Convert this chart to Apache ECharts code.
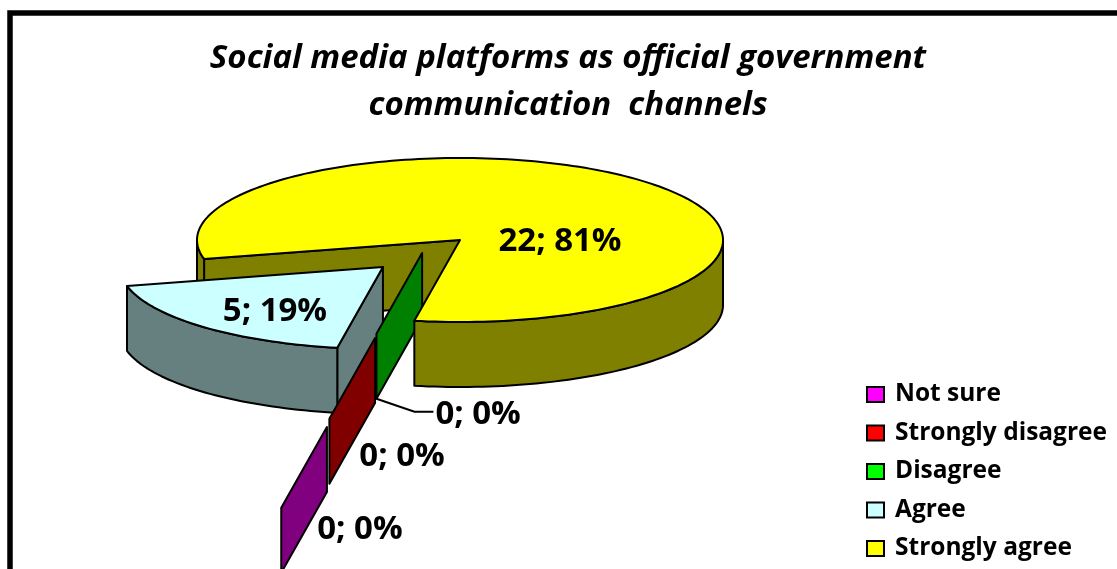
<!DOCTYPE html>
<html>
<head>
<meta charset="utf-8">
<style>html,body{margin:0;padding:0;background:#fff}#chart{width:1117px;height:569px}</style>
<script src="https://cdn.jsdelivr.net/npm/echarts@6/dist/echarts.min.js"></script>
</head>
<body>
<div id="chart"></div>
<script>
// Survey responses, in the order the slices run clockwise around the pie.
const categories = ['Not sure', 'Strongly disagree', 'Disagree', 'Agree', 'Strongly agree'];
const responses = [0, 0, 0, 5, 22];
const sliceColors = ['#FF00FF', '#FF0000', '#00FF00', '#CCFFFF', '#FFFF00'];

// Pie projection: an ellipse with a vertical rim.
const pie = { cx: 460, cy: 240, rx: 263, ry: 82, depth: 65, startAngle: 190 };
// How far each slice is pulled out, as a fraction of the ellipse radii.
const explodeX = [-0.506, -0.323, -0.144, -0.293, 0];
const explodeY = [2.28, 1.195, 0.158, 0.33, 0];
// Paint layers: rim pieces on the left side, then everything else.
const backLayer = [5, 6, 3, 2, 1];
const frontLayer = [5, 6, 3, 2, 4];
// Label centres relative to the slice's own apex.
const labelDX = [33, 27, 56, -108, 100];
const labelDY = [103, 119, 162, 45, 2];
const FONT = '"Open Sans"';

const total = responses.reduce((a, b) => a + b, 0);
const rad = d => d * Math.PI / 180;

function shade(hex) {
  const n = parseInt(hex.slice(1), 16);
  const half = s => (((n >> s) & 255) >> 1) + (((n >> s) & 255) === 255 ? 1 : 0);
  return `rgb(${half(16)},${half(8)},${half(0)})`;
}

function renderSlice(index, params, api) {
  const value = api.value(0);
  let a = pie.startAngle;
  for (let i = 0; i < index; i++) a += responses[i] / total * 360;
  const b = a + value / total * 360;
  const ox = pie.cx + explodeX[index] * pie.rx;
  const oy = pie.cy + explodeY[index] * pie.ry;
  const rim = t => [ox + pie.rx * Math.sin(rad(t)), oy - pie.ry * Math.cos(rad(t))];
  const drop = p => [p[0], p[1] + pie.depth];
  const fill = sliceColors[index];
  const wall = shade(fill);
  const poly = (points, color, z2) => ({
    type: 'polygon', z2, shape: { points },
    style: { fill: color, stroke: '#000', lineWidth: 2, lineJoin: 'round' }
  });
  const arc = (from, to) => {
    const pts = [];
    const n = Math.max(1, Math.ceil((to - from) / 1.5));
    for (let k = 0; k <= n; k++) pts.push(rim(from + (to - from) * k / n));
    return pts;
  };
  const children = [];
  const apex = [ox, oy];

  // Cut faces that look towards the viewer.
  if (Math.sin(rad(a)) < 0) {
    const e = rim(a);
    children.push(poly([apex, e, drop(e), drop(apex)], wall, backLayer[index]));
  }
  if (value > 0 && Math.sin(rad(b)) > 0) {
    const e = rim(b);
    children.push(poly([apex, e, drop(e), drop(apex)], wall, backLayer[index]));
  }
  // Outer rim: only the near side of the ellipse; the stretch left of the
  // lowest point of a large slice goes behind the slices pulled out in front of it.
  for (let lap = 0; lap < 2; lap++) {
    const from = Math.max(a, 90 + lap * 360);
    const to = Math.min(b, 270 + lap * 360);
    if (to > from) {
      const top = arc(from, to);
      const layer = from >= 200 + lap * 360 ? backLayer[index] : frontLayer[index];
      children.push(poly(top.concat(top.slice().reverse().map(drop)), wall, layer));
    }
  }
  // Top face.
  if (value > 0) {
    children.push(poly([apex].concat(arc(a, b)), fill, frontLayer[index]));
  }
  // Value label; the Disagree slice sits close by, so it gets a leader line.
  const lx = ox + labelDX[index];
  const ly = oy + labelDY[index];
  if (index === 2) {
    const foot = drop(rim(a));
    children.push({
      type: 'polyline', z2: 7,
      shape: { points: [foot, [foot[0] + 38, foot[1] + 13], [foot[0] + 57, foot[1] + 13]] },
      style: { stroke: '#000', lineWidth: 2, fill: null }
    });
  }
  children.push({
    type: 'text', z2: 8, x: lx, y: ly,
    style: {
      text: `${value}; ${Math.round(value / total * 100)}%`,
      fill: '#000', font: `bold 33px ${FONT}`, align: 'center', verticalAlign: 'middle'
    }
  });
  return { type: 'group', children };
}

const chart = echarts.init(document.getElementById('chart'));
chart.setOption({
  animation: false,
  backgroundColor: '#fff',
  color: sliceColors,
  title: {
    text: 'Social media platforms as official government\ncommunication  channels',
    left: 563, top: 30, textAlign: 'center',
    textStyle: {
      fontFamily: 'Open Sans', fontSize: 33, fontWeight: 'bold', fontStyle: 'italic',
      color: '#000', lineHeight: 47
    }
  },
  legend: {
    orient: 'vertical', left: 861, top: 377, itemWidth: 17, itemHeight: 15, itemGap: 13.5,
    icon: 'rect',
    itemStyle: { borderColor: '#000', borderWidth: 2 },
    textStyle: { fontFamily: 'Open Sans', fontSize: 24.5, fontWeight: 'bold', color: '#000', lineHeight: 24, padding: [0, 0, 0, 6] },
    data: categories
  },
  graphic: [{
    type: 'rect', silent: true, z: 10,
    shape: { x: 10, y: 13, width: 1300, height: 800 },
    style: { fill: 'none', stroke: '#000', lineWidth: 5.5 }
  }],
  series: categories.map((name, i) => ({
    type: 'custom', name, coordinateSystem: 'none',
    data: [[responses[i]]],
    renderItem: (params, api) => renderSlice(i, params, api)
  }))
});
</script>
</body>
</html>
